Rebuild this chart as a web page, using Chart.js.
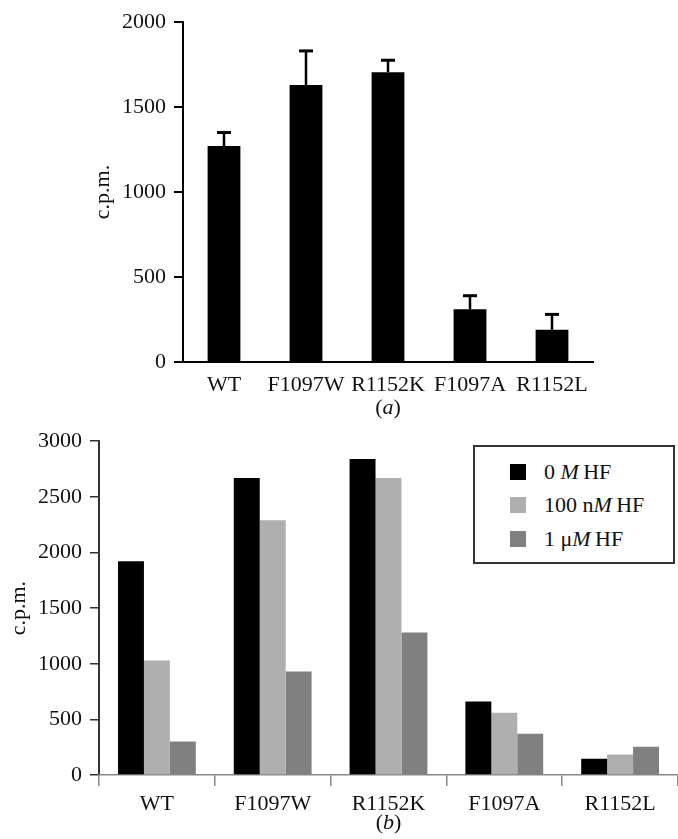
<!DOCTYPE html>
<html>
<head>
<meta charset="utf-8">
<script src="https://cdn.jsdelivr.net/npm/chart.js@4"></script>
<style>
  body { margin: 0; background: #fff; }
  #wrap { position: relative; width: 678px; height: 839px; }
  .box { position: absolute; left: 0; width: 678px; }
  #boxA { top: 0; height: 420px; }
  #boxB { top: 420px; height: 419px; }
  #legend {
    position: absolute; left: 473px; top: 445px; width: 202px; height: 119px;
    box-sizing: border-box; border: 2px solid #333; background: #fff;
    padding: 8px 0 0 35px;
    font-family: 'Liberation Serif', serif; font-size: 22px; color: #111;
  }
  .item { display: flex; align-items: center; height: 33.5px; }
  .swatch { width: 16px; height: 16px; margin-right: 18px; }
</style>
</head>
<body>
<div id="wrap">
  <div class="box" id="boxA"><canvas id="chartA"></canvas></div>
  <div class="box" id="boxB"><canvas id="chartB"></canvas></div>
  <div id="legend"></div>
</div>
<script>
// data
const categories = ['WT', 'F1097W', 'R1152K', 'F1097A', 'R1152L'];
const activityA = [1270, 1630, 1705, 310, 190];
const errorA = [80, 200, 70, 80, 90];
const ticksA = [0, 500, 1000, 1500, 2000];

const hfLabels = ['0 M HF', '100 nM HF', '1 μM HF'];
const hfColors = ['#000000', '#afafaf', '#808080'];
const hf0 = [1920, 2670, 2840, 660, 145];
const hf100n = [1030, 2290, 2670, 560, 185];
const hf1u = [300, 930, 1280, 370, 255];
const ticksB = [0, 500, 1000, 1500, 2000, 2500, 3000];

Chart.defaults.font.family = "'Liberation Serif', serif";
Chart.defaults.font.size = 22;
Chart.defaults.color = '#111';

// "(a)" / "(b)" under each panel, letter in italic
const captionPlugin = {
    id: 'caption',
    afterDraw(chart, args, opts) {
        const { ctx, chartArea } = chart;
        const parts = [['(', 'normal'], [opts.letter, 'italic'], [')', 'normal']];
        ctx.save();
        ctx.textBaseline = 'middle';
        ctx.textAlign = 'left';
        ctx.fillStyle = '#111';
        let total = 0;
        parts.forEach(p => {
            ctx.font = p[1] + " 22px 'Liberation Serif'";
            total += ctx.measureText(p[0]).width;
        });
        let x = (chartArea.left + chartArea.right) / 2 - total / 2;
        const y = chartArea.bottom + opts.offset;
        parts.forEach(p => {
            ctx.font = p[1] + " 22px 'Liberation Serif'";
            ctx.fillText(p[0], x, y);
            x += ctx.measureText(p[0]).width;
        });
        ctx.restore();
    }
};

// upward error bars for panel (a)
const errorBarPlugin = {
    id: 'errorBars',
    afterDatasetsDraw(chart) {
        const { ctx } = chart;
        const yScale = chart.scales.y;
        const meta = chart.getDatasetMeta(0);
        ctx.save();
        ctx.strokeStyle = '#000';
        meta.data.forEach((bar, i) => {
            const top = yScale.getPixelForValue(activityA[i] + errorA[i]);
            ctx.lineWidth = 2.5;
            ctx.beginPath();
            ctx.moveTo(bar.x, bar.y);
            ctx.lineTo(bar.x, top);
            ctx.stroke();
            ctx.lineWidth = 3;
            ctx.beginPath();
            ctx.moveTo(bar.x - 7, top);
            ctx.lineTo(bar.x + 7, top);
            ctx.stroke();
        });
        ctx.restore();
    }
};

const plainTick = v => String(v);

new Chart(document.getElementById('chartA'), {
    type: 'bar',
    data: {
        labels: categories,
        datasets: [{
            data: activityA,
            backgroundColor: '#000',
            categoryPercentage: 1,
            barPercentage: 0.4
        }]
    },
    options: {
        responsive: true,
        maintainAspectRatio: false,
        animation: false,
        layout: { padding: { top: 22, left: 0, right: 85, bottom: 0 } },
        plugins: {
            legend: { display: false },
            tooltip: { enabled: false },
            caption: { letter: 'a', offset: 46 }
        },
        scales: {
            y: {
                min: 0,
                max: 2000,
                afterBuildTicks: s => { s.ticks = ticksA.map(v => ({ value: v })); },
                afterFit: s => { s.width = 183; },
                border: { color: '#000', width: 2 },
                grid: { drawOnChartArea: false, drawTicks: true, tickLength: 9, color: '#000', lineWidth: 2 },
                ticks: { padding: 8, callback: plainTick },
                title: { display: true, text: 'c.p.m.', padding: { top: 90, bottom: 0 } }
            },
            x: {
                afterFit: s => { s.height = 58; },
                border: { color: '#000', width: 2 },
                grid: { display: false },
                ticks: { padding: 2, autoSkip: false, maxRotation: 0, minRotation: 0 }
            }
        }
    },
    plugins: [errorBarPlugin, captionPlugin]
});

const seriesB = [hf0, hf100n, hf1u];
const chartB = new Chart(document.getElementById('chartB'), {
    type: 'bar',
    data: {
        labels: categories,
        datasets: seriesB.map((vals, i) => ({
            label: hfLabels[i],
            data: vals,
            backgroundColor: hfColors[i],
            categoryPercentage: 0.672,
            barPercentage: 1
        }))
    },
    options: {
        responsive: true,
        maintainAspectRatio: false,
        animation: false,
        layout: { padding: { top: 16, left: 0, right: 0, bottom: 0 } },
        plugins: {
            legend: { display: false },
            tooltip: { enabled: false },
            caption: { letter: 'b', offset: 48 }
        },
        scales: {
            y: {
                min: 0,
                max: 3000,
                afterBuildTicks: s => { s.ticks = ticksB.map(v => ({ value: v })); },
                afterFit: s => { s.width = 99; },
                border: { color: '#333', width: 2 },
                grid: { drawOnChartArea: false, drawTicks: true, tickLength: 9, color: '#333', lineWidth: 1.5 },
                ticks: { padding: 8, callback: plainTick },
                title: { display: true, text: 'c.p.m.', padding: { top: 6, bottom: 0 } }
            },
            x: {
                afterFit: s => { s.height = 64; },
                border: { color: '#888', width: 1.5 },
                grid: { drawOnChartArea: false, drawTicks: true, tickLength: 11, color: '#888', lineWidth: 1.5, offset: true },
                ticks: { padding: 5, autoSkip: false, maxRotation: 0, minRotation: 0 }
            }
        }
    },
    plugins: [captionPlugin]
});

// boxed legend with italic M, built from the datasets
const legendEl = document.getElementById('legend');
chartB.data.datasets.forEach(ds => {
    const row = document.createElement('div');
    row.className = 'item';
    const sw = document.createElement('span');
    sw.className = 'swatch';
    sw.style.background = ds.backgroundColor;
    const txt = document.createElement('span');
    txt.innerHTML = ds.label.replace(/M HF$/, '<i>M</i>&#8201;HF');
    row.appendChild(sw);
    row.appendChild(txt);
    legendEl.appendChild(row);
});
</script>
</body>
</html>
